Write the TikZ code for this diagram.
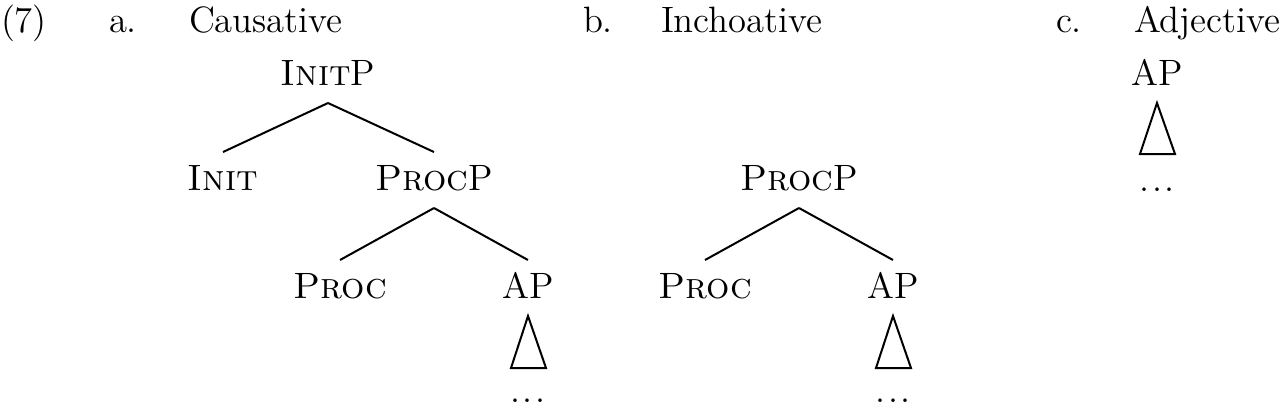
\documentclass[tikz,border=0pt]{standalone}
\begin{document}
\begin{tikzpicture}[x=0.3pt, y=-0.3pt, line width=0.6pt,
  every node/.style={font=\fontsize{11pt}{13pt}\selectfont, inner sep=0pt},
  cat/.style={anchor=base, text height=7.5pt, text depth=1.5pt, inner ysep=3.6pt},
  lbl/.style={anchor=base west}]
\useasboundingbox (0,0) rectangle (1288,407);

% Titulos
\node[lbl] (num) at (0,32) {(7)};
\node[lbl] (la) at (108,32) {a.};
\node[lbl] (ta) at (188,32) {Causative};
\node[lbl] (lb) at (582,32) {b.};
\node[lbl] (tb) at (660,32) {Inchoative};
\node[lbl] (lc) at (1055,32) {c.};
\node[lbl] (tc) at (1133,32) {Adjective};

% Arbol a
\node[cat] (initp) at (328,85) {\textsc{Init}P};
\node[cat] (init) at (223,190) {\textsc{Init}};
\node[cat] (procpa) at (434,190) {\textsc{Proc}P};
\node[cat] (proca) at (340,298) {\textsc{Proc}};
\node[cat] (apa) at (528,298) {AP};
\node[anchor=base] (dotsa) at (528,402) {.\kern0.7pt.\kern0.7pt.};
\draw (initp.south) -- (init.north);
\draw (initp.south) -- (procpa.north);
\draw (procpa.south) -- (proca.north);
\draw (procpa.south) -- (apa.north);
\draw (apa.south) -- ++(-17,52) -- ++(35,0) -- cycle;

% Arbol b
\node[cat] (procpb) at (799,190) {\textsc{Proc}P};
\node[cat] (procb) at (705,298) {\textsc{Proc}};
\node[cat] (apb) at (893,298) {AP};
\node[anchor=base] (dotsb) at (893,402) {.\kern0.7pt.\kern0.7pt.};
\draw (procpb.south) -- (procb.north);
\draw (procpb.south) -- (apb.north);
\draw (apb.south) -- ++(-17,52) -- ++(35,0) -- cycle;

% Arbol c
\node[cat] (apc) at (1157,85) {AP};
\node[anchor=base] (dotsc) at (1157,191) {.\kern0.7pt.\kern0.7pt.};
\draw (apc.south) -- ++(-17,51) -- ++(35,0) -- cycle;

\end{tikzpicture}
\end{document}
